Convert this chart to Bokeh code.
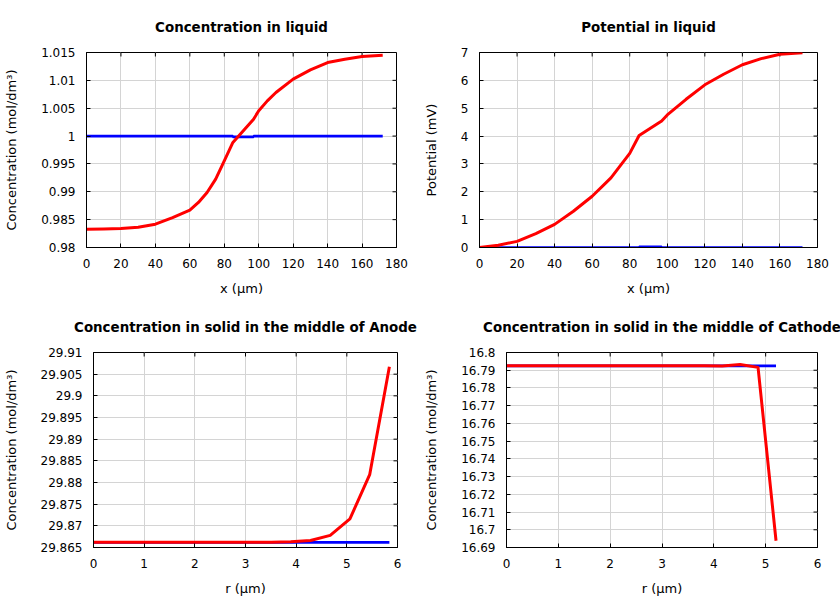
import math
from bokeh.plotting import figure
from bokeh.layouts import column, row
from bokeh.models import FixedTicker, Range1d
from bokeh.embed import file_html
from bokeh.resources import INLINE

# ---------------- data ----------------
# Concentration in liquid (final = red, initial = blue)
liq_x = [0, 10, 20, 30, 40, 50, 60, 65, 70, 75, 80, 85, 97, 100, 105, 110, 120, 130, 140, 150, 160, 172]
liq_conc = [0.98329, 0.98332, 0.98341, 0.98362, 0.98419, 0.98538, 0.98670, 0.98808, 0.98987, 0.99227,
            0.99556, 0.99885, 1.00303, 1.00453, 1.00632, 1.00782, 1.01021, 1.01189, 1.01320, 1.01380,
            1.01428, 1.01452]
liq_init_x = [0, 85, 85, 97, 97, 172]
liq_conc_init = [1.0, 1.0, 0.99985, 0.99985, 1.0, 1.0]

# Potential in liquid
pot_x = [0, 10, 20, 30, 40, 50, 60, 70, 80, 85, 97, 100, 110, 120, 130, 140, 150, 160, 172]
pot_final = [0.0, 0.08, 0.22, 0.50, 0.83, 1.30, 1.84, 2.50, 3.38, 4.02, 4.54, 4.76, 5.32, 5.84,
             6.22, 6.56, 6.78, 6.94, 6.99]
pot_init = [0.0, 0.0, 0.02, 0.02, 0.0, 0.0]

# Concentration in solid, middle of anode
r_anode = [0, 0.389, 0.779, 1.168, 1.557, 1.947, 2.336, 2.725, 3.115, 3.504, 3.893, 4.283,
           4.672, 5.061, 5.451, 5.84]
anode_final = [29.8662, 29.8662, 29.8662, 29.8662, 29.8662, 29.8662, 29.8662, 29.8662, 29.8662,
               29.8662, 29.8663, 29.8666, 29.8678, 29.8716, 29.8818, 29.9067]
anode_init = [29.8662] * 16

# Concentration in solid, middle of cathode
r_cathode = [0, 0.347, 0.693, 1.04, 1.387, 1.733, 2.08, 2.427, 2.773, 3.12, 3.467, 3.813,
             4.16, 4.507, 4.853, 5.2]
cathode_final = [16.7925, 16.7925, 16.7925, 16.7925, 16.7925, 16.7925, 16.7925, 16.7925,
                 16.7925, 16.7925, 16.7925, 16.7925, 16.7924, 16.7932, 16.7916, 16.6938]
cathode_init = [16.7925] * 16

# ticks
x_ticks_liq = [0, 20, 40, 60, 80, 100, 120, 140, 160, 180]
x_labels_liq = ["0", "20", "40", "60", "80", "100", "120", "140", "160", "180"]
x_ticks_r = [0, 1, 2, 3, 4, 5, 6]
x_labels_r = ["0", "1", "2", "3", "4", "5", "6"]
y_ticks_conc = [0.98, 0.985, 0.99, 0.995, 1.0, 1.005, 1.01, 1.015]
y_labels_conc = ["0.98", "0.985", "0.99", "0.995", "1", "1.005", "1.01", "1.015"]
y_ticks_pot = [0, 1, 2, 3, 4, 5, 6, 7]
y_labels_pot = ["0", "1", "2", "3", "4", "5", "6", "7"]
y_ticks_anode = [29.865, 29.87, 29.875, 29.88, 29.885, 29.89, 29.895, 29.9, 29.905, 29.91]
y_labels_anode = ["29.865", "29.87", "29.875", "29.88", "29.885", "29.89", "29.895", "29.9",
                  "29.905", "29.91"]
y_ticks_cathode = [16.69, 16.7, 16.71, 16.72, 16.73, 16.74, 16.75, 16.76, 16.77, 16.78, 16.79, 16.8]
y_labels_cathode = ["16.69", "16.7", "16.71", "16.72", "16.73", "16.74", "16.75", "16.76",
                    "16.77", "16.78", "16.79", "16.8"]

FONT = "DejaVu Sans"
RED = "#ff0000"
BLUE = "#0000ff"
GRID = "#d4d4d4"


def style_axis(ax, ticks, labels, axis_label, label_standoff, title_standoff):
    ax.ticker = FixedTicker(ticks=ticks)
    ax.major_label_overrides = dict(zip(ticks, labels))
    ax.major_tick_in = 4
    ax.major_tick_out = 0
    ax.minor_tick_in = 0
    ax.minor_tick_out = 0
    ax.major_tick_line_color = "black"
    ax.axis_line_color = "black"
    ax.axis_line_width = 1
    ax.major_label_text_font = FONT
    ax.major_label_text_font_size = "12px"
    ax.major_label_text_color = "black"
    ax.major_label_standoff = label_standoff
    ax.axis_label = axis_label
    ax.axis_label_text_font = FONT
    ax.axis_label_text_font_size = "13px"
    ax.axis_label_text_font_style = "normal"
    ax.axis_label_text_color = "black"
    ax.axis_label_standoff = title_standoff


def panel(title, xlabel, ylabel, xr, yr, xt, xl, yt, yl, borders):
    left, right, top, bottom = borders
    p = figure(width=420, height=300, output_backend="svg", toolbar_location=None,
               x_range=Range1d(*xr), y_range=Range1d(*yr),
               min_border_left=left, min_border_right=right,
               min_border_top=top, min_border_bottom=bottom,
               title=title)
    p.title.text_font = FONT
    p.title.text_font_size = "13.4px"
    p.title.text_font_style = "bold"
    p.title.text_color = "black"
    p.title.align = "center"
    p.title.standoff = 35
    p.outline_line_color = "black"
    p.outline_line_width = 1
    p.outline_line_alpha = 1
    p.background_fill_color = "white"
    p.border_fill_color = "white"

    style_axis(p.xaxis[0], xt, xl, xlabel, 11, 10)
    style_axis(p.yaxis[0], yt, yl, ylabel, 11, 19)

    p.xgrid.ticker = FixedTicker(ticks=xt)
    p.ygrid.ticker = FixedTicker(ticks=yt)
    for g in (p.xgrid, p.ygrid):
        g.grid_line_color = GRID
        g.grid_line_width = 1

    # mirrored inward ticks on the top and right edges
    p.ray(x=xt, y=[yr[1]] * len(xt), length=4, length_units="screen",
          angle=-math.pi / 2, line_color="black", line_width=1)
    p.ray(x=[xr[1]] * len(yt), y=yt, length=4, length_units="screen",
          angle=math.pi, line_color="black", line_width=1)
    return p


p1 = panel("Concentration in liquid", "x (μm)", "Concentration (mol/dm³)",
           (0, 180), (0.98, 1.015), x_ticks_liq, x_labels_liq, y_ticks_conc, y_labels_conc,
           (86, 24, 52, 53))
p1.line(liq_init_x, liq_conc_init, line_color=BLUE, line_width=2.7)
p1.line(liq_x, liq_conc, line_color=RED, line_width=3, line_join="round")

p2 = panel("Potential in liquid", "x (μm)", "Potential (mV)",
           (0, 180), (0, 7), x_ticks_liq, x_labels_liq, y_ticks_pot, y_labels_pot,
           (53, 23, 52, 53))
p2.line(liq_init_x, pot_init, line_color=BLUE, line_width=2.7)
p2.line(pot_x, pot_final, line_color=RED, line_width=3, line_join="round")

p3 = panel("Concentration in solid in the middle of Anode", "r (μm)", "Concentration (mol/dm³)",
           (0, 6), (29.865, 29.91), x_ticks_r, x_labels_r, y_ticks_anode, y_labels_anode,
           (93, 23, 52, 53))
p3.line(r_anode, anode_init, line_color=BLUE, line_width=2.7)
p3.line(r_anode, anode_final, line_color=RED, line_width=3, line_join="round")

p4 = panel("Concentration in solid in the middle of Cathode", "r (μm)", "Concentration (mol/dm³)",
           (0, 6), (16.69, 16.8), x_ticks_r, x_labels_r, y_ticks_cathode, y_labels_cathode,
           (86, 23, 52, 53))
p4.line(r_cathode, cathode_init, line_color=BLUE, line_width=2.7)
p4.line(r_cathode, cathode_final, line_color=RED, line_width=3, line_join="round")

layout = column(row(p1, p2), row(p3, p4))
open("out.html", "w").write(file_html(layout, INLINE))
